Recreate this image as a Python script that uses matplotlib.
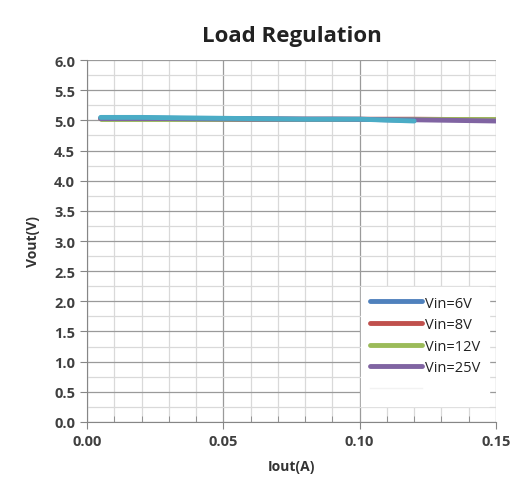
import numpy as np
import matplotlib.pyplot as plt
from matplotlib.lines import Line2D
from matplotlib.ticker import MultipleLocator

# load current (A) and output voltage (V)
iout_a = [0.005, 0.02, 0.04, 0.06, 0.08, 0.10, 0.12]
vout_6v = [5.04, 5.04, 5.03, 5.03, 5.02, 5.02, 5.00]
iout_b = [0.005, 0.03, 0.06, 0.09, 0.12, 0.15]
vout_8v = [5.03, 5.03, 5.02, 5.02, 5.02, 5.01]
vout_12v = [5.03, 5.03, 5.03, 5.03, 5.03, 5.03]
vout_25v = [5.03, 5.03, 5.02, 5.02, 5.01, 4.99]
vout_extra = [5.05, 5.05, 5.04, 5.03, 5.02, 5.02, 4.99]

labels = ['Vin=6V', 'Vin=8V', 'Vin=12V', 'Vin=25V']
colors = ['#4F81BD', '#C0504D', '#9BBB59', '#8064A2']
cyan = '#4BACC6'

x_ticks = [0.00, 0.05, 0.10, 0.15]
y_ticks = np.arange(0, 6.01, 0.5)

fig, ax = plt.subplots(figsize=(5.15, 4.85), dpi=100)
fig.subplots_adjust(left=0.169, right=0.963, top=0.874, bottom=0.128)

lines = []
lines.append(ax.plot(iout_a, vout_6v, color=colors[0], lw=3.5, solid_capstyle='round')[0])
lines.append(ax.plot(iout_b, vout_8v, color=colors[1], lw=3.5, solid_capstyle='round')[0])
lines.append(ax.plot(iout_b, vout_12v, color=colors[2], lw=3.5, solid_capstyle='round')[0])
lines.append(ax.plot(iout_b, vout_25v, color=colors[3], lw=3.5, solid_capstyle='round')[0])
ax.plot(iout_a, vout_extra, color=cyan, lw=3.5, solid_capstyle='round')

ax.set_xlim(0, 0.15)
ax.set_ylim(0, 6.0)
ax.set_xticks(x_ticks)
ax.set_yticks(y_ticks)
ax.xaxis.set_minor_locator(MultipleLocator(0.01))
ax.yaxis.set_minor_locator(MultipleLocator(0.25))
ax.set_xticklabels(['%.2f' % t for t in x_ticks])
ax.set_yticklabels(['%.1f' % t for t in y_ticks])

ax.grid(which='major', color='#9a9a9a', lw=0.9)
ax.grid(which='minor', color='#d9d9d9', lw=0.9)
ax.set_axisbelow(True)

for s in ['top', 'right']:
    ax.spines[s].set_visible(False)
for s in ['left', 'bottom']:
    ax.spines[s].set_color('#868686')

ax.tick_params(which='major', direction='out', length=5, color='#868686',
               labelsize=10.5, labelcolor='#404040')
ax.tick_params(which='minor', direction='in', length=4, color='#868686')
ax.tick_params(axis='y', which='minor', length=0)
for lab in ax.get_xticklabels() + ax.get_yticklabels():
    lab.set_fontweight('bold')
    lab.set_family('Open Sans')

ax.set_title('Load Regulation', fontsize=16, fontweight='bold',
             family='Open Sans', color='#222222', pad=14)
ax.set_xlabel('Iout(A)', fontsize=10, fontweight='bold', family='Open Sans',
              color='#333333', labelpad=8)
ax.set_ylabel('Vout(V)', fontsize=10, fontweight='bold', family='Open Sans',
              color='#333333', labelpad=10)

handles = lines + [Line2D([], [], color='#f2f2f2', lw=1)]
leg = ax.legend(handles, labels + [''], loc='lower right',
                bbox_to_anchor=(1.0, 0.025), frameon=True, fancybox=False,
                edgecolor='white', framealpha=1.0, handlelength=3.6,
                handletextpad=0.15, labelspacing=0.45, borderpad=0.6,
                prop={'family': 'Open Sans', 'size': 10.5})
for t in leg.get_texts():
    t.set_color('#222222')

fig.savefig('out.png', dpi=100)
